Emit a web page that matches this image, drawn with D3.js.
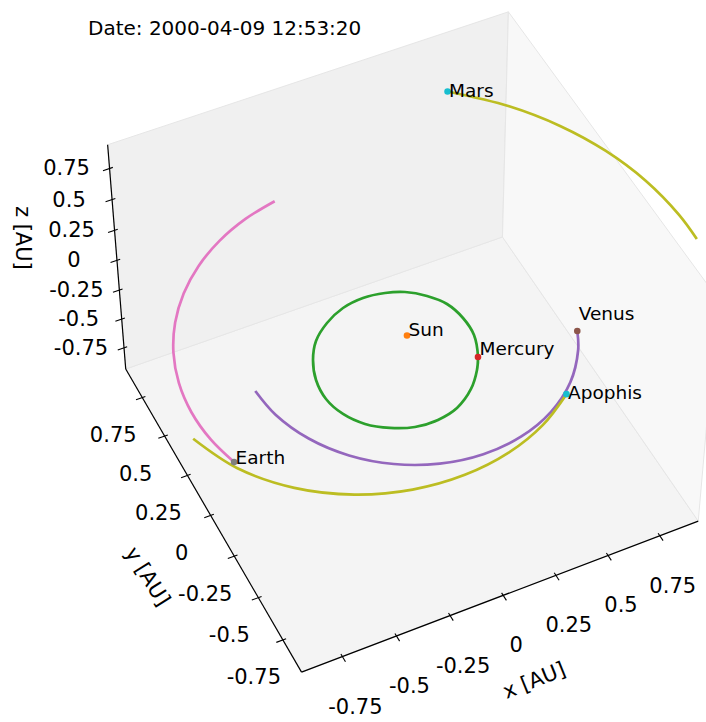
<!DOCTYPE html>
<html>
<head>
<meta charset="utf-8">
<script src="https://cdn.jsdelivr.net/npm/d3@7"></script>
<style>
  html, body { margin: 0; padding: 0; background: #ffffff; }
  svg { display: block; font-family: "DejaVu Sans", sans-serif; }
</style>
</head>
<body>
<svg id="chart" width="706" height="722"></svg>
<script>
// ---------------- data ----------------
const titleText = "Date: 2000-04-09 12:53:20";
const tickValues = [-0.75, -0.5, -0.25, 0, 0.25, 0.5, 0.75];
const tickLabels = ["-0.75", "-0.5", "-0.25", "0", "0.25", "0.5", "0.75"];
const axisNames = ["x [AU]", "y [AU]", "z [AU]"];

// current positions of the bodies (AU)
const bodyNames = ["Sun", "Mercury", "Venus", "Earth", "Mars", "Apophis"];
const bodyX = [0, 0.2166, 0.6767, -0.9469, 0.8052, 0.4431];
const bodyY = [0, -0.2403, -0.2642, -0.3260, 1.2527, -0.6128];
const bodyZ = [0, 0, -0.0427, 0, 0.0064, 0.0431];
const bodyColors = ["#ff7f0e", "#d62728", "#8c564b", "#7f7f7f", "#17becf", "#17becf"];
const labelDy = [0, -2, -11, 2, 5, 5];

// trails (AU) [x, y, z]
const mercuryTrail = [
  [-0.1455, -0.4841, 0], [-0.0898, -0.4835, 0], [0.0106, -0.4583, 0], [0.1101, -0.3889, 0],
  [0.1801, -0.3043, 0], [0.2166, -0.2403, 0], [0.2571, -0.1206, 0], [0.2584, -0.0126, 0],
  [0.2327, 0.0898, 0], [0.1762, 0.1687, 0], [0.1015, 0.2306, 0], [0.0218, 0.2625, 0],
  [-0.0755, 0.2769, 0], [-0.1772, 0.2613, 0], [-0.2753, 0.2122, 0], [-0.3607, 0.1387, 0],
  [-0.4174, 0.0460, 0], [-0.4533, -0.0619, 0], [-0.4602, -0.1763, 0], [-0.4314, -0.2824, 0],
  [-0.3724, -0.3718, 0], [-0.2884, -0.4366, 0], [-0.1926, -0.4767, 0], [-0.0898, -0.4835, 0],
  [0.0106, -0.4583, 0], [0.1101, -0.3889, 0], [0.1801, -0.3043, 0], [0.2166, -0.2403, 0]
];
const venusTrail = [
  [-0.7183, -0.0327, 0.0410], [-0.6955, -0.1869, 0.0376], [-0.6246, -0.3614, 0.0311],
  [-0.5110, -0.5119, 0.0225], [-0.3621, -0.6278, 0.0123], [-0.1879, -0.7013, 0.0013],
  [-0.0003, -0.7269, -0.0099], [0.1878, -0.7028, -0.0205], [0.3633, -0.6303, -0.0296],
  [0.5139, -0.5147, -0.0367], [0.6293, -0.3637, -0.0413], [0.6767, -0.2642, -0.0427]
];
const earthTrail = [
  [-0.1772, 0.9672, 0], [-0.3364, 0.9241, 0], [-0.4920, 0.8522, 0], [-0.6332, 0.7546, 0],
  [-0.7558, 0.6342, 0], [-0.8561, 0.4942, 0], [-0.9310, 0.3389, 0], [-0.9782, 0.1725, 0],
  [-0.9960, 0.0000, 0], [-0.9837, -0.1735, 0], [-0.9469, -0.3260, 0]
];
const marsTrail = [
  [1.3910, -0.0141, -0.0345], [1.3896, 0.1475, -0.0310], [1.3545, 0.3900, -0.0251],
  [1.2800, 0.6259, -0.0183], [1.1665, 0.8494, -0.0109], [1.0153, 1.0543, -0.0029],
  [0.8052, 1.2527, 0.0064]
];
const apophisTrail = [
  [-1.0435, -0.1258, -0.0184], [-0.9469, -0.3607, -0.0037], [-0.7838, -0.5660, 0.0111],
  [-0.5807, -0.7123, 0.0238], [-0.3581, -0.7968, 0.0336], [-0.1331, -0.8225, 0.0404],
  [0.0811, -0.7956, 0.0441], [0.2754, -0.7232, 0.0450], [0.4431, -0.6128, 0.0431]
];
const trails = [mercuryTrail, venusTrail, earthTrail, marsTrail, apophisTrail];
const trailColors = ["#2ca02c", "#9467bd", "#e377c2", "#bcbd22", "#bcbd22"];

// ---------------- view / layout ----------------
const view = { elev: 47.7, azim: -115.7, dist: 17.5, scale: 221.2, cx: 407, cy: 335.5 };
const boxHalf = 0.9375;   // padded axis limits
const zAspect = 0.75;     // 4:4:3 box

const sx = d3.scaleLinear().domain([-boxHalf, boxHalf]).range([-1, 1]);
const sy = d3.scaleLinear().domain([-boxHalf, boxHalf]).range([-1, 1]);
const sz = d3.scaleLinear().domain([-boxHalf, boxHalf]).range([-zAspect, zAspect]);

const el = view.elev * Math.PI / 180, az = view.azim * Math.PI / 180;
const Rv = [-Math.sin(az), Math.cos(az), 0];
const Uv = [-Math.sin(el) * Math.cos(az), -Math.sin(el) * Math.sin(az), Math.cos(el)];
const Wv = [Math.cos(el) * Math.cos(az), Math.cos(el) * Math.sin(az), Math.sin(el)];
const dot3 = (a, b) => a[0] * b[0] + a[1] * b[1] + a[2] * b[2];

function project(x, y, z) {
  const p = [sx(x), sy(y), sz(z)];
  const f = view.dist / (view.dist - dot3(p, Wv));
  return [view.cx + view.scale * dot3(p, Rv) * f, view.cy - view.scale * dot3(p, Uv) * f];
}

const svg = d3.select("#chart");
const lo = -boxHalf, hi = boxHalf;

// ---------------- panes ----------------
const panes = [
  { pts: [[lo, lo, lo], [hi, lo, lo], [hi, hi, lo], [lo, hi, lo]], fill: "#f4f4f4" }, // floor
  { pts: [[lo, hi, lo], [hi, hi, lo], [hi, hi, hi], [lo, hi, hi]], fill: "#f0f0f0" }, // y wall
  { pts: [[hi, lo, lo], [hi, hi, lo], [hi, hi, hi], [hi, lo, hi]], fill: "#f8f8f8" }  // x wall
];
const lineGen = d3.line();
svg.append("g").selectAll("path").data(panes).join("path")
  .attr("d", d => lineGen(d.pts.map(p => project(...p))) + "Z")
  .attr("fill", d => d.fill)
  .attr("stroke", "#e6e6e6")
  .attr("stroke-width", 1);

// ---------------- axes ----------------
const gAx = svg.append("g").attr("stroke", "#000").attr("fill", "none");
const axisLines = [
  [[lo, lo, lo], [hi, lo, lo]],
  [[lo, lo, lo], [lo, hi, lo]],
  [[lo, hi, lo], [lo, hi, hi]]
];
gAx.selectAll("path.axis").data(axisLines).join("path").attr("class", "axis")
  .attr("d", d => lineGen(d.map(p => project(...p))))
  .attr("stroke-width", 1.2);

const tin = 0.015, tout = 0.03;
const tickDefs = [
  { at: v => [v, lo, lo], a: v => [v, lo + tin, lo], b: v => [v, lo - tout, lo], off: [13, 50] },
  { at: v => [lo, v, lo], a: v => [lo + tin, v, lo], b: v => [lo - tout, v, lo], off: [-29, 37.5] },
  { at: v => [lo, hi, v], a: v => [lo + tin, hi, v], b: v => [lo - tout, hi, v], off: [-43, 0] }
];
tickDefs.forEach(def => {
  gAx.append("g").selectAll("path").data(tickValues).join("path")
    .attr("d", v => lineGen([project(...def.a(v)), project(...def.b(v))]))
    .attr("stroke-width", 1.1);
  svg.append("g").selectAll("text").data(tickValues).join("text")
    .attr("x", v => project(...def.at(v))[0] + def.off[0])
    .attr("y", v => project(...def.at(v))[1] + def.off[1])
    .attr("text-anchor", "middle")
    .attr("dominant-baseline", "central")
    .attr("font-size", 21)
    .attr("fill", "#000")
    .text((v, i) => tickLabels[i]);
});

// axis titles
const axisTitleDefs = [
  { mid: [0, lo, lo], off: [31, 85], rot: -22 },
  { mid: [lo, 0, lo], off: [-63, 61], rot: 58 },
  { mid: [lo, hi, 0], off: [-94, -22.5], rot: 90 }
];
svg.append("g").selectAll("text").data(axisTitleDefs).join("text")
  .attr("transform", d => {
    const p = project(...d.mid);
    return `translate(${p[0] + d.off[0]},${p[1] + d.off[1]}) rotate(${d.rot})`;
  })
  .attr("text-anchor", "middle")
  .attr("dominant-baseline", "central")
  .attr("font-size", 21)
  .attr("fill", "#000")
  .text((d, i) => axisNames[i]);

// ---------------- trails ----------------
const trailLine = d3.line().curve(d3.curveCatmullRom.alpha(0.5));
svg.append("g").selectAll("path").data(trails).join("path")
  .attr("d", t => trailLine(t.map(p => project(p[0], p[1], p[2]))))
  .attr("fill", "none")
  .attr("stroke", (t, i) => trailColors[i])
  .attr("stroke-width", 2.7)
  .attr("stroke-linecap", "butt")
  .attr("stroke-linejoin", "round");

// ---------------- bodies ----------------
const bodies = bodyNames.map((n, i) => ({ name: n, p: project(bodyX[i], bodyY[i], bodyZ[i]), c: bodyColors[i], dy: labelDy[i] }));
svg.append("g").selectAll("circle").data(bodies).join("circle")
  .attr("cx", d => d.p[0]).attr("cy", d => d.p[1]).attr("r", 3.3)
  .attr("fill", d => d.c);
svg.append("g").selectAll("text").data(bodies).join("text")
  .attr("x", d => d.p[0] + 1.5).attr("y", d => d.p[1] + d.dy)
  .attr("font-size", 18.5)
  .attr("fill", "#000")
  .text(d => d.name);

// ---------------- title ----------------
svg.append("text").attr("x", 88).attr("y", 35)
  .attr("font-size", 20).attr("fill", "#000")
  .text(titleText);
</script>
</body>
</html>
